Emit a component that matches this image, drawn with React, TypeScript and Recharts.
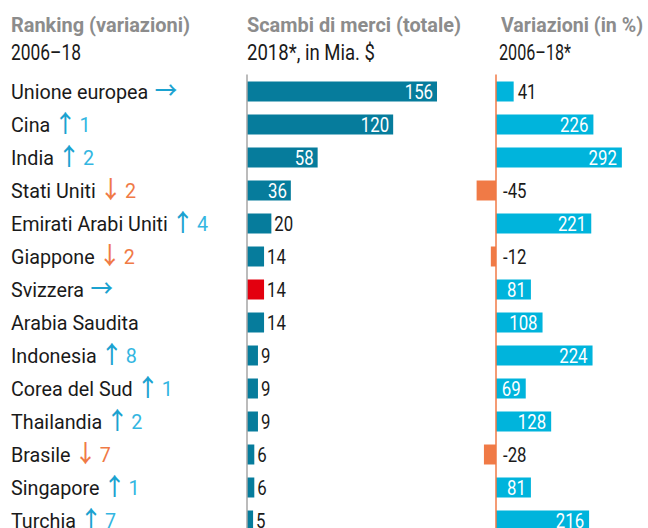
import React from 'react';
import { BarChart, Bar, XAxis, YAxis, Cell, LabelList, ReferenceLine } from 'recharts';

const countries = [
  'Unione europea', 'Cina', 'India', 'Stati Uniti', 'Emirati Arabi Uniti', 'Giappone', 'Svizzera',
  'Arabia Saudita', 'Indonesia', 'Corea del Sud', 'Thailandia', 'Brasile', 'Singapore', 'Turchia',
];
const tradeValues = [156, 120, 58, 36, 20, 14, 14, 14, 9, 9, 9, 6, 6, 5];
const changeValues = [41, 226, 292, -45, 221, -12, 81, 108, 224, 69, 128, -28, 81, 216];
const rankMoves = ['same', 'up', 'up', 'down', 'up', 'down', 'same', 'none', 'up', 'up', 'up', 'down', 'up', 'up'];
const rankSteps = ['', '1', '2', '2', '4', '2', '', '', '8', '1', '2', '7', '1', '7'];
const highlightCountry = 'Svizzera';

const headerTitles = ['Ranking (variazioni)', 'Scambi di merci (totale)', 'Variazioni (in %)'];
const headerSubtitles = ['2006\u201318', '2018*, in Mia. $', '2006\u201318*'];

const data = countries.map((name, i) => ({
  name,
  trade: tradeValues[i],
  change: changeValues[i],
  move: rankMoves[i],
  step: rankSteps[i],
}));

const W = 648;
const H = 528;
const ROW = 33;
const TOP = 74.5;
const CHART_H = 540;
const PLOT_H = ROW * countries.length;
const BOTTOM = CHART_H - TOP - PLOT_H;

const TRADE_COLOR = '#067c9c';
const HIGHLIGHT_COLOR = '#e3000f';
const POS_COLOR = '#00b4dc';
const NEG_COLOR = '#f07a46';
const UP_ARROW = '#1ba2d0';
const UP_NUM = '#33b6e1';
const DOWN_COLOR = '#f07a46';
const TEXT = '#1a1a1a';
const GREY = '#8c8c8c';

const LABEL_FONT = 'Roboto, sans-serif';
const ARROW_FONT = "'Noto Sans CJK JP', 'DejaVu Sans', sans-serif";
const LABEL_SX = 0.94;
const VALUE_SX = 0.8;

// header layout (x, text width)
const titleX = [11, 247, 501];
const titleW = [179, 214, 142];
const subX = [11, 247, 499];
const subW = [70, 128, 72];

// chart A geometry
const A_W = 470;
const A_AXIS = 247;
const A_PX = 1.218;
const A_DOMAIN: [number, number] = [0, (A_W - A_AXIS) / A_PX];
// chart B geometry
const B_LEFT = 460;
const B_W = W - B_LEFT;
const B_ZERO = 36;
const B_PX = 0.431;
const B_DOMAIN: [number, number] = [-B_ZERO / B_PX, (B_W - B_ZERO) / B_PX];

const CountryTick = (props: any) => {
  const { y, payload } = props;
  const row = data.find((r) => r.name === payload.value);
  let arrow = '';
  let arrowColor = UP_ARROW;
  let numColor = UP_NUM;
  if (row) {
    if (row.move === 'same') arrow = '\u2192';
    if (row.move === 'up') arrow = '\u2191';
    if (row.move === 'down') {
      arrow = '\u2193';
      arrowColor = DOWN_COLOR;
      numColor = DOWN_COLOR;
    }
  }
  const isSide = row && row.move === 'same';
  return (
    <g transform={`translate(11, ${y + 8}) scale(${LABEL_SX}, 1)`}>
      <text x={0} y={0} fontFamily={LABEL_FONT} fontSize={21} fill={TEXT}>
        {payload.value}
        {arrow ? (
          <tspan fill={arrowColor} fontFamily={ARROW_FONT} fontSize={24} fontWeight={500} dx={isSide ? 7 : 4}>
            {arrow}
          </tspan>
        ) : null}
        {row && row.step ? (
          <tspan fill={numColor} dx={3}>
            {row.step}
          </tspan>
        ) : null}
      </text>
    </g>
  );
};

const ValueText = ({ x, y, anchor, fill, v }: any) => (
  <g transform={`translate(${x}, ${y}) scale(${VALUE_SX}, 1)`}>
    <text x={0} y={0} textAnchor={anchor} fill={fill} fontFamily={LABEL_FONT} fontSize={21}>
      {v}
    </text>
  </g>
);

const TradeLabel = (props: any) => {
  const { x, y, width, height, value } = props;
  const v = Number(value);
  const inside = v >= 30;
  const end = x + width;
  return (
    <ValueText
      x={inside ? end - 4 : end + 3}
      y={y + height / 2 + 7.5}
      anchor={inside ? 'end' : 'start'}
      fill={inside ? '#ffffff' : TEXT}
      v={v}
    />
  );
};

const ChangeLabel = (props: any) => {
  const { x, y, width, height, value } = props;
  const v = Number(value);
  const right = Math.max(x, x + width);
  let tx = right - 5;
  let anchor = 'end';
  let fill = '#ffffff';
  if (v < 0) {
    tx = right + 7;
    anchor = 'start';
    fill = TEXT;
  } else if (v < 60) {
    tx = right + 4;
    anchor = 'start';
    fill = TEXT;
  }
  return <ValueText x={tx} y={y + height / 2 + 7.5} anchor={anchor} fill={fill} v={v} />;
};

export default function App() {
  return (
    <div style={{ position: 'absolute', left: 0, top: 0, width: W, height: H, overflow: 'hidden', background: '#fff' }}>
      <svg width={W} height={80} style={{ position: 'absolute', left: 0, top: 0 }}>
        {headerTitles.map((t, i) => (
          <text
            key={'t' + i}
            x={titleX[i]}
            y={31.7}
            fontFamily={LABEL_FONT}
            fontWeight={700}
            fontSize={20.5}
            fill={GREY}
            textLength={titleW[i]}
            lengthAdjust="spacingAndGlyphs"
          >
            {t}
          </text>
        ))}
        {headerSubtitles.map((t, i) => (
          <text
            key={'s' + i}
            x={subX[i]}
            y={60}
            fontFamily={LABEL_FONT}
            fontSize={21.5}
            fill={TEXT}
            textLength={subW[i]}
            lengthAdjust="spacingAndGlyphs"
          >
            {t}
          </text>
        ))}
      </svg>

      <div style={{ position: 'absolute', left: 0, top: 0 }}>
        <BarChart
          layout="vertical"
          width={A_W}
          height={CHART_H}
          data={data}
          margin={{ top: TOP, right: 0, bottom: BOTTOM, left: 0 }}
          barSize={20}
        >
          <XAxis type="number" domain={A_DOMAIN} hide allowDataOverflow />
          <YAxis
            type="category"
            dataKey="name"
            width={A_AXIS}
            axisLine={{ stroke: '#a6a6a6', strokeWidth: 1.5 }}
            tickLine={false}
            tick={<CountryTick />}
            interval={0}
          />
          <Bar dataKey="trade" isAnimationActive={false}>
            {data.map((d) => (
              <Cell key={d.name} fill={d.name === highlightCountry ? HIGHLIGHT_COLOR : TRADE_COLOR} />
            ))}
            <LabelList dataKey="trade" content={<TradeLabel />} />
          </Bar>
        </BarChart>
      </div>

      <div style={{ position: 'absolute', left: B_LEFT, top: 0 }}>
        <BarChart
          layout="vertical"
          width={B_W}
          height={CHART_H}
          data={data}
          margin={{ top: TOP, right: 0, bottom: BOTTOM, left: 0 }}
          barSize={20}
        >
          <XAxis type="number" domain={B_DOMAIN} hide allowDataOverflow />
          <YAxis type="category" dataKey="name" hide />
          <ReferenceLine
            x={0}
            stroke={NEG_COLOR}
            strokeWidth={1.5}
            segment={[{ x: 0, y: countries[0] }, { x: 0, y: countries[countries.length - 1] }]}
          />
          <Bar dataKey="change" isAnimationActive={false}>
            {data.map((d) => (
              <Cell key={d.name} fill={d.change < 0 ? NEG_COLOR : POS_COLOR} />
            ))}
            <LabelList dataKey="change" content={<ChangeLabel />} />
          </Bar>
        </BarChart>
      </div>
    </div>
  );
}
